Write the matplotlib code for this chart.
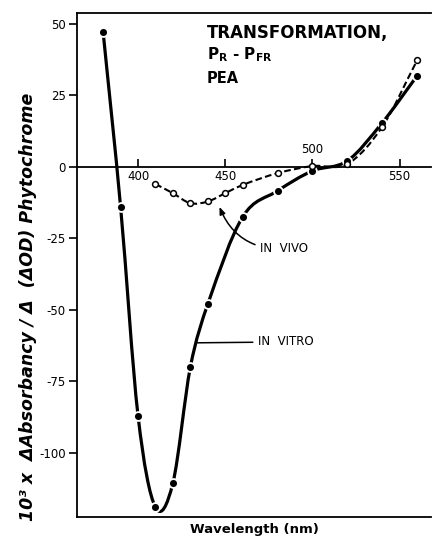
import numpy as np
import matplotlib
matplotlib.use("Agg")
import matplotlib.pyplot as plt
from matplotlib.path import Path
from matplotlib.patches import PathPatch

# values (wavelength nm, 10^3 x dA / d(dOD))
wl_vitro = [380, 390, 400, 410, 420, 430, 440, 460, 480, 500, 520, 540, 560]
val_vitro = [47, -14, -87, -119, -110.5, -70, -48, -17.5, -8.4, -1.4, 2.1, 15.4, 31.8]

wl_vivo = [410, 420, 430, 440, 450, 460, 480, 500, 520, 540, 560]
val_vivo = [-6, -9.2, -12.7, -12.1, -9.2, -6.3, -2.2, 0.3, 1.0, 14, 37.2]

xticks = [400, 450, 500, 550]
yticks = [-100, -75, -50, -25, 0, 25, 50]


def smooth_path(xs, ys):
    # cubic bezier segments through the measured points, drawn by matplotlib
    x = np.asarray(xs, float)
    y = np.asarray(ys, float)
    n = len(x)
    m = np.empty(n)
    m[0] = (y[1] - y[0]) / (x[1] - x[0])
    m[-1] = (y[-1] - y[-2]) / (x[-1] - x[-2])
    m[1:-1] = (y[2:] - y[:-2]) / (x[2:] - x[:-2])
    verts = [(x[0], y[0])]
    codes = [Path.MOVETO]
    for i in range(n - 1):
        h = x[i + 1] - x[i]
        verts += [(x[i] + h / 3, y[i] + m[i] * h / 3),
                  (x[i + 1] - h / 3, y[i + 1] - m[i + 1] * h / 3),
                  (x[i + 1], y[i + 1])]
        codes += [Path.CURVE4] * 3
    return Path(verts, codes)


fig = plt.figure(figsize=(4.32, 5.4), dpi=100)
ax = fig.add_axes([77 / 432, 23 / 540, 354 / 432, 504 / 540])
ax.set_xlim(365, 568)
ax.set_ylim(-122.4, 53.8)

# curves
ax.add_patch(PathPatch(smooth_path(wl_vitro, val_vitro), fill=False,
                       edgecolor="black", lw=2.3, capstyle="round", zorder=2))
ax.add_patch(PathPatch(smooth_path(wl_vivo, val_vivo), fill=False,
                       edgecolor="black", lw=1.5, linestyle=(0, (3.2, 1.6)), zorder=2))
ax.plot(wl_vitro, val_vitro, "o", ms=6.4, mfc="black", mec="white", mew=1.3, zorder=3)
ax.plot(wl_vivo, val_vivo, "o", ms=4.2, mfc="white", mec="black", mew=1.1, zorder=4)

# axes: zero line carries the wavelength ticks
ax.spines["right"].set_visible(False)
ax.spines["bottom"].set_position(("data", 0))
for s in ["left", "top", "bottom"]:
    ax.spines[s].set_linewidth(1.3)
ax.plot([0, 1], [0, 0], transform=ax.transAxes, color="black", lw=1.3, clip_on=False)

ax.set_xticks(xticks)
ax.set_xticklabels(["400", "450", "", "550"])
ax.text(500, 3.8, "500", ha="center", va="bottom", fontsize=8.5)
ax.tick_params(axis="x", direction="in", length=6, width=1.2, pad=2.5, labelsize=8.5)
ax.set_yticks(yticks)
ax.set_yticklabels([str(v) for v in yticks])
ax.tick_params(axis="y", direction="out", length=6, width=1.2, pad=2, labelsize=8.5)

ax.set_xlabel("Wavelength (nm)", fontsize=9.5, fontweight="bold")
ax.xaxis.set_label_coords(0.5, -0.012)
ax.set_ylabel("10\u00b3 x  \u0394Absorbancy / \u0394  (\u0394OD) Phytochrome",
              fontsize=12.5, fontweight="bold", fontstyle="italic")
ax.yaxis.set_label_coords(-0.112, 0.417)

# heading
ax.text(0.366, 0.960, "TRANSFORMATION,", transform=ax.transAxes,
        fontsize=12, fontweight="bold", ha="left", va="center")
ax.text(0.366, 0.918, r"$\mathbf{P_{R}}$ - $\mathbf{P_{FR}}$", transform=ax.transAxes,
        fontsize=11, fontweight="bold", ha="left", va="center")
ax.text(0.366, 0.870, "PEA", transform=ax.transAxes,
        fontsize=10.5, fontweight="bold", ha="left", va="center")

# labels for the curves
ax.annotate("IN  VIVO", xy=(446.7, -14), xytext=(470.2, -28.7),
            fontsize=8.5, ha="left", va="center",
            arrowprops=dict(arrowstyle="-|>,head_length=0.5,head_width=0.2",
                            color="black", lw=1.1, shrinkA=2, shrinkB=0,
                            connectionstyle="arc3,rad=-0.35"))
ax.annotate("IN  VITRO", xy=(434.1, -61.5), xytext=(469.0, -61.2),
            fontsize=8.5, ha="left", va="center",
            arrowprops=dict(arrowstyle="-", color="black", lw=1.1,
                            shrinkA=2, shrinkB=0))

fig.savefig("out.png", dpi=100)
